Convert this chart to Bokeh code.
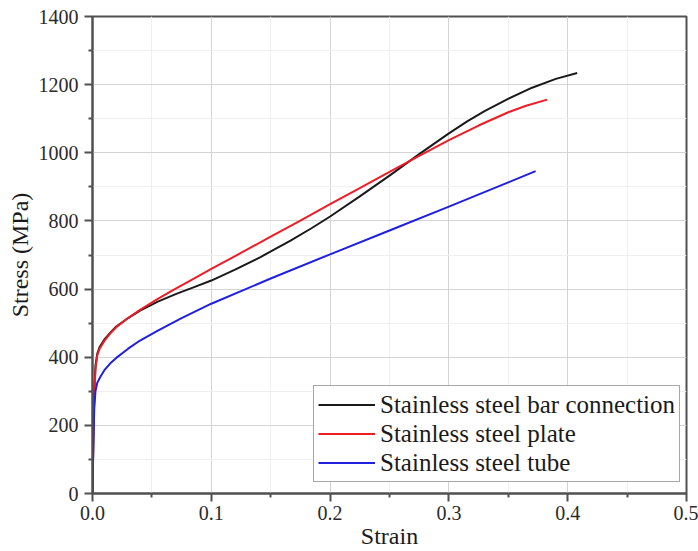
from bokeh.plotting import figure
from bokeh.models import Range1d, FixedTicker, Legend, LegendItem
from bokeh.embed import file_html
from bokeh.resources import INLINE

# Engineering stress-strain curves (strain in mm/mm, stress in MPa)
bar_strain = [0, 0.0008, 0.0015, 0.0025, 0.004, 0.006, 0.01, 0.015, 0.02, 0.03,
              0.04, 0.055, 0.07, 0.085, 0.1, 0.12, 0.1414, 0.1667, 0.185, 0.2,
              0.225, 0.25, 0.275, 0.3, 0.3154, 0.33, 0.349, 0.37, 0.39, 0.408]
bar_stress = [0, 180, 300, 375, 410, 430, 452, 472, 490, 515,
              537, 563, 585, 605, 625, 657, 694, 742, 780, 813,
              872, 933, 996, 1057, 1092, 1122, 1157, 1191, 1217, 1234]

plate_strain = [0, 0.0008, 0.0015, 0.0025, 0.004, 0.006, 0.01, 0.015, 0.02, 0.03,
                0.04, 0.055, 0.07, 0.085, 0.1, 0.125, 0.15, 0.175, 0.2, 0.225,
                0.25, 0.275, 0.3, 0.325, 0.35, 0.365, 0.3827]
plate_stress = [0, 180, 290, 365, 405, 425, 448, 470, 488, 515,
                539, 571, 601, 630, 659, 706, 754, 801, 849, 896,
                944, 991, 1037, 1080, 1119, 1138, 1156]

tube_strain = [0, 0.0008, 0.0015, 0.0025, 0.004, 0.007, 0.01, 0.015, 0.02, 0.03,
               0.04, 0.055, 0.075, 0.1, 0.15, 0.2, 0.25, 0.3, 0.35, 0.373]
tube_stress = [0, 160, 250, 300, 325, 345, 362, 382, 398, 425,
               449, 478, 515, 557, 631, 702, 772, 842, 913, 946]

series_names = ["Stainless steel bar connection", "Stainless steel plate", "Stainless steel tube"]
series_colors = ["#1a1a1a", "#ee1c25", "#2020e0"]

x_ticks = [0.0, 0.1, 0.2, 0.3, 0.4, 0.5]
x_tick_labels = {0.0: "0.0", 0.1: "0.1", 0.2: "0.2", 0.3: "0.3", 0.4: "0.4", 0.5: "0.5"}
y_ticks = [0, 200, 400, 600, 800, 1000, 1200, 1400]

FONT = "Liberation Serif"
AXIS_COLOR = "#505050"

p = figure(width=698, height=551, output_backend="svg", toolbar_location=None,
           x_range=Range1d(0, 0.5), y_range=Range1d(0, 1400),
           min_border_left=92, min_border_right=12, min_border_top=16, min_border_bottom=57)

p.background_fill_color = "white"
p.border_fill_color = "white"
p.outline_line_color = AXIS_COLOR
p.outline_line_width = 2

# axes
for ax in (p.xaxis[0], p.yaxis[0]):
    ax.axis_line_color = AXIS_COLOR
    ax.axis_line_width = 2
    ax.major_tick_line_color = AXIS_COLOR
    ax.major_tick_line_width = 2
    ax.minor_tick_line_color = AXIS_COLOR
    ax.minor_tick_line_width = 2
    ax.major_tick_out = 8
    ax.major_tick_in = 0
    ax.minor_tick_out = 4
    ax.minor_tick_in = 0
    ax.major_label_text_font = FONT
    ax.major_label_text_font_size = "20px"
    ax.major_label_text_color = "#2a2a2a"
    ax.axis_label_text_font = FONT
    ax.axis_label_text_font_size = "24px"
    ax.axis_label_text_font_style = "normal"
    ax.axis_label_text_color = "#1a1a1a"

p.xaxis.ticker = FixedTicker(ticks=x_ticks, minor_ticks=[0.05, 0.15, 0.25, 0.35, 0.45])
p.xaxis.major_label_overrides = x_tick_labels
p.yaxis.ticker = FixedTicker(ticks=y_ticks, minor_ticks=[100, 300, 500, 700, 900, 1100, 1300])
p.xaxis.axis_label = "Strain"
p.yaxis.axis_label = "Stress (MPa)"
p.xaxis.major_label_standoff = 4
p.xaxis.axis_label_standoff = 0
p.yaxis.major_label_standoff = 6
p.yaxis.axis_label_standoff = 3

# grid
p.xgrid.grid_line_color = "#d4d4d4"
p.ygrid.grid_line_color = "#d4d4d4"
p.xgrid.minor_grid_line_color = "#efefef"
p.ygrid.minor_grid_line_color = "#efefef"
p.xgrid.grid_line_width = 1
p.ygrid.grid_line_width = 1

# curves
r_bar = p.line(bar_strain, bar_stress, line_color=series_colors[0], line_width=2,
               line_join="round")
r_plate = p.line(plate_strain, plate_stress, line_color=series_colors[1], line_width=2,
                 line_join="round")
r_tube = p.line(tube_strain, tube_stress, line_color=series_colors[2], line_width=2,
                line_join="round")

legend = Legend(items=[LegendItem(label=series_names[0], renderers=[r_bar]),
                       LegendItem(label=series_names[1], renderers=[r_plate]),
                       LegendItem(label=series_names[2], renderers=[r_tube])],
                location=(221, 11))
legend.label_text_font = FONT
legend.label_text_font_size = "25px"
legend.label_text_color = "#1a1a1a"
legend.glyph_width = 57
legend.glyph_height = 29
legend.label_height = 29
legend.label_standoff = 5
legend.spacing = 0
legend.padding = 4
legend.margin = 0
legend.border_line_color = AXIS_COLOR
legend.border_line_width = 1.5
legend.background_fill_color = "white"
legend.background_fill_alpha = 1.0
p.add_layout(legend, "center")

open("out.html", "w").write(file_html(p, INLINE))
